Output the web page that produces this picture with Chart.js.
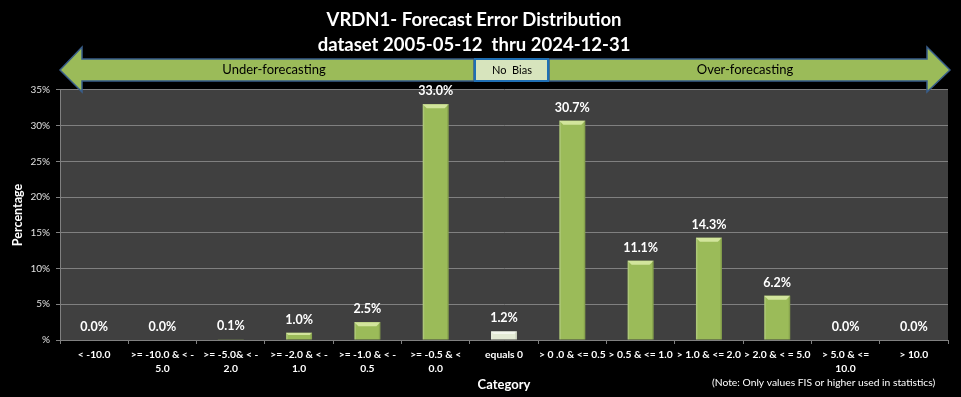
<!DOCTYPE html>
<html>
<head>
<meta charset="utf-8">
<script src="https://cdn.jsdelivr.net/npm/chart.js@4.4.1/dist/chart.umd.min.js"></script>
<style>
  html, body { margin: 0; padding: 0; background: #000; }
  #wrap { width: 961px; height: 397px; }
</style>
</head>
<body>
<div id="wrap"><canvas id="errorChart"></canvas></div>
<script>
// chart data
const categories = [
  '< -10.0',
  ['>= -10.0 & < -', '5.0'],
  ['>= -5.0& < -', '2.0'],
  ['>= -2.0 & < -', '1.0'],
  ['>= -1.0 & < -', '0.5'],
  ['>= -0.5 & <', '0.0'],
  'equals 0',
  '> 0 .0 & <= 0.5',
  '> 0.5 & <= 1.0',
  '> 1.0 & <= 2.0',
  '> 2.0 & < = 5.0',
  ['> 5.0 & <=', '10.0'],
  '> 10.0'
]
const percentages = [0.0, 0.0, 0.1, 1.0, 2.5, 33.0, 1.2, 30.7, 11.1, 14.3, 6.2, 0.0, 0.0]
const yTicks = [0, 5, 10, 15, 20, 25, 30, 35]
const titleLines = ['VRDN1- Forecast Error Distribution', 'dataset 2005-05-12  thru 2024-12-31']
const noteText = '(Note: Only values FIS or higher used in statistics)'

const FONT = 'Lato, Carlito, "Open Sans", sans-serif'
const GREEN = '#9bbb59'
const PALE = '#e4ebd5'
const barColors = categories.map((c) => c === 'equals 0' ? PALE : GREEN)
const bevelColors = categories.map((c) => c === 'equals 0' ? '#f4f7ee' : '#d2e59c')

// dark plot area
const plotBackground = {
  id: 'plotBackground',
  beforeDraw(chart) {
    const { ctx, chartArea: a } = chart
    ctx.save()
    ctx.fillStyle = '#404040'
    ctx.fillRect(a.left, a.top, a.right - a.left, a.bottom - a.top)
    ctx.restore()
  }
}

// excel-like bevel on top of each bar + value labels
const barDecor = {
  id: 'barDecor',
  afterDatasetsDraw(chart) {
    const { ctx } = chart
    const meta = chart.getDatasetMeta(0)
    ctx.save()
    meta.data.forEach((bar, i) => {
      const { x, y, base, width } = bar.getProps(['x', 'y', 'base', 'width'], true)
      const h = base - y
      const l = x - width / 2
      const r = x + width / 2
      if (h > 0.5) {
        const b = Math.min(4, h / 3)
        ctx.fillStyle = bevelColors[i]
        ctx.beginPath()
        ctx.moveTo(l, y)
        ctx.lineTo(r, y)
        ctx.lineTo(r - b, y + b)
        ctx.lineTo(l + b, y + b)
        ctx.closePath()
        ctx.fill()
        ctx.fillStyle = 'rgba(255,255,255,0.18)'
        ctx.fillRect(l, y, 1.5, h)
        ctx.fillStyle = 'rgba(0,0,0,0.12)'
        ctx.fillRect(r - 1.5, y, 1.5, h)
      }
      ctx.fillStyle = '#ffffff'
      ctx.font = 'bold 12.5px ' + FONT
      ctx.textAlign = 'center'
      ctx.textBaseline = 'middle'
      ctx.fillText(percentages[i].toFixed(1) + '%', x, y - 13)
    })
    ctx.restore()
  }
}

// bias arrows and the note
const biasArrows = {
  id: 'biasArrows',
  afterDraw(chart) {
    const { ctx } = chart
    const top = 59, bot = 81, headTop = 47, headBot = 92
    const mid = (top + bot) / 2
    ctx.save()
    ctx.lineWidth = 1.5
    ctx.lineJoin = 'miter'

    // left arrow
    ctx.fillStyle = GREEN
    ctx.strokeStyle = '#385d8a'
    ctx.beginPath()
    ctx.moveTo(60, mid)
    ctx.lineTo(82, headTop)
    ctx.lineTo(82, top)
    ctx.lineTo(474, top)
    ctx.lineTo(474, bot)
    ctx.lineTo(82, bot)
    ctx.lineTo(82, headBot)
    ctx.closePath()
    ctx.fill()
    ctx.stroke()

    // right arrow
    ctx.beginPath()
    ctx.moveTo(950, mid)
    ctx.lineTo(927, headTop)
    ctx.lineTo(927, top)
    ctx.lineTo(549, top)
    ctx.lineTo(549, bot)
    ctx.lineTo(927, bot)
    ctx.lineTo(927, headBot)
    ctx.closePath()
    ctx.fill()
    ctx.stroke()

    // no bias box
    ctx.fillStyle = '#d7e4bd'
    ctx.strokeStyle = '#1f6fb4'
    ctx.lineWidth = 2
    ctx.fillRect(475, top, 73, bot - top)
    ctx.strokeRect(475, top, 73, bot - top)

    ctx.fillStyle = '#000000'
    ctx.textAlign = 'center'
    ctx.textBaseline = 'middle'
    ctx.font = '13px ' + FONT
    ctx.fillText('Under-forecasting', 274, mid)
    ctx.fillText('Over-forecasting', 745, mid)
    ctx.font = '11px ' + FONT
    ctx.fillText('No  Bias', 512, mid)

    ctx.fillStyle = '#ffffff'
    ctx.font = '10.3px ' + FONT
    ctx.textAlign = 'left'
    ctx.fillText(noteText, 712, 383)
    ctx.restore()
  }
}

const ctx = document.getElementById('errorChart').getContext('2d')
new Chart(ctx, {
  type: 'bar',
  data: {
    labels: categories,
    datasets: [{
      label: 'Percentage',
      data: percentages,
      backgroundColor: barColors,
      borderWidth: 0,
      barPercentage: 0.38,
      categoryPercentage: 1.0
    }]
  },
  options: {
    responsive: true,
    maintainAspectRatio: false,
    animation: false,
    layout: { padding: { left: 0, right: 13, top: 0, bottom: 0 } },
    plugins: {
      legend: { display: false },
      tooltip: { enabled: false },
      title: {
        display: true,
        text: titleLines,
        color: '#ffffff',
        font: { family: FONT, size: 18.5, weight: 'bold', lineHeight: 1.35 },
        padding: { top: 8, bottom: 32 }
      }
    },
    scales: {
      x: {
        afterFit(scale) { scale.height = 57 },
        grid: {
          display: true,
          drawOnChartArea: false,
          offset: true,
          tickLength: 4,
          color: '#808080'
        },
        border: { color: '#808080' },
        ticks: {
          color: '#ffffff',
          font: { family: FONT, size: 10.3, weight: 'bold', lineHeight: 1.36 },
          padding: 4,
          maxRotation: 0,
          autoSkip: false
        },
        title: {
          display: true,
          text: 'Category',
          color: '#ffffff',
          font: { family: FONT, size: 13, weight: 'bold', lineHeight: 1.2 },
          padding: { top: 0, bottom: 4 }
        }
      },
      y: {
        min: 0,
        max: 35,
        afterFit(scale) { scale.width = 60 },
        afterBuildTicks(scale) { scale.ticks = yTicks.map((v) => ({ value: v })) },
        grid: { color: '#808080', tickLength: 4 },
        border: { color: '#808080' },
        ticks: {
          color: '#e0e0e0',
          font: { family: FONT, size: 10 },
          padding: 6,
          callback: (v) => v === 0 ? '%' : v + '%'
        },
        title: {
          display: true,
          text: 'Percentage',
          color: '#ffffff',
          font: { family: FONT, size: 12.5, weight: 'bold', lineHeight: 1.2 },
          padding: { top: 10, bottom: 0 }
        }
      }
    }
  },
  plugins: [plotBackground, barDecor, biasArrows]
})
</script>
</body>
</html>
